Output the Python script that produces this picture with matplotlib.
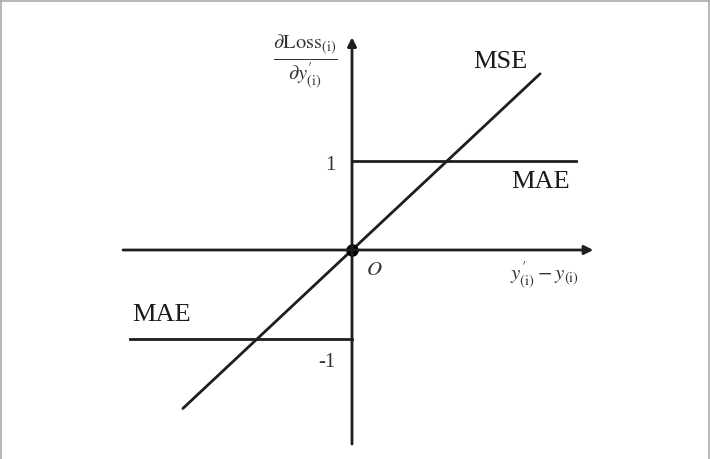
import numpy as np
import matplotlib.pyplot as plt

# derivative of the loss w.r.t. the prediction, in units of (y' - y)
mse_x = [-1.78, 1.98]
mse_y = [-1.78, 1.98]
mae_pos_x = [0.0, 2.36]
mae_pos_y = [1.0, 1.0]
mae_neg_x = [-2.34, 0.0]
mae_neg_y = [-1.0, -1.0]
tick_vals = [1, -1]
tick_labels = ['1', '-1']

plt.rcParams['font.family'] = ['Liberation Serif', 'DejaVu Serif']
plt.rcParams['mathtext.fontset'] = 'stix'

fig = plt.figure(figsize=(7.1, 4.6), dpi=100)
ax = fig.add_axes([0, 0, 1, 1])
# axes fill the whole figure; x unit ~95 px, y unit ~89 px
ax.set_xlim(-3.705, 3.768)
ax.set_ylim(-2.348, 2.820)
ax.set_axis_off()

line_c = '#1e1e1e'
lw = 2.0

# coordinate axes with arrows
ax.annotate('', xy=(2.54, 0), xytext=(-2.41, 0),
            arrowprops=dict(arrowstyle='-|>', color=line_c, lw=lw,
                            mutation_scale=13, shrinkA=0, shrinkB=0))
ax.annotate('', xy=(0, 2.39), xytext=(0, -2.18),
            arrowprops=dict(arrowstyle='-|>', color=line_c, lw=lw,
                            mutation_scale=13, shrinkA=0, shrinkB=0))

ax.plot(mse_x, mse_y, color=line_c, lw=lw, solid_capstyle='round')
ax.plot(mae_pos_x, mae_pos_y, color=line_c, lw=lw)
ax.plot(mae_neg_x, mae_neg_y, color=line_c, lw=lw)
ax.plot([0], [0], 'o', color='black', markersize=8)

for v, t in zip(tick_vals, tick_labels):
    ax.text(-0.17, v - 0.04 if v > 0 else v - 0.25, t, fontsize=15,
            ha='right', va='center', color='#333333')

ax.text(0.15, -0.22, r'$O$', fontsize=15, ha='left', va='center', color='#333333')

ax.text(1.56, 2.12, 'MSE', fontsize=19, ha='center', va='center', color='#1a1a1a')
ax.text(1.98, 0.77, 'MAE', fontsize=19, ha='center', va='center', color='#1a1a1a')
ax.text(-2.01, -0.72, 'MAE', fontsize=19, ha='center', va='center', color='#1a1a1a')

ax.text(2.03, -0.27, r"$y_{(\mathrm{i})}^{\prime} - y_{(\mathrm{i})}$", fontsize=15,
        ha='center', va='center', color='#333333')
ax.text(-0.49, 2.12,
        r"$\frac{\partial \mathrm{Loss}_{(\mathrm{i})}}{\partial y_{(\mathrm{i})}^{\prime}}$",
        fontsize=21, ha='center', va='center', color='#333333')

# thin grey frame from the screenshot edges
for xs, ys in [([0.002, 0.002], [0, 1]), ([0.998, 0.998], [0, 1]), ([0, 1], [0.996, 0.996])]:
    fig.add_artist(plt.Line2D(xs, ys, transform=fig.transFigure, color='#aaaaaa', lw=1.2))

fig.savefig('out.png', dpi=100, facecolor='white')
